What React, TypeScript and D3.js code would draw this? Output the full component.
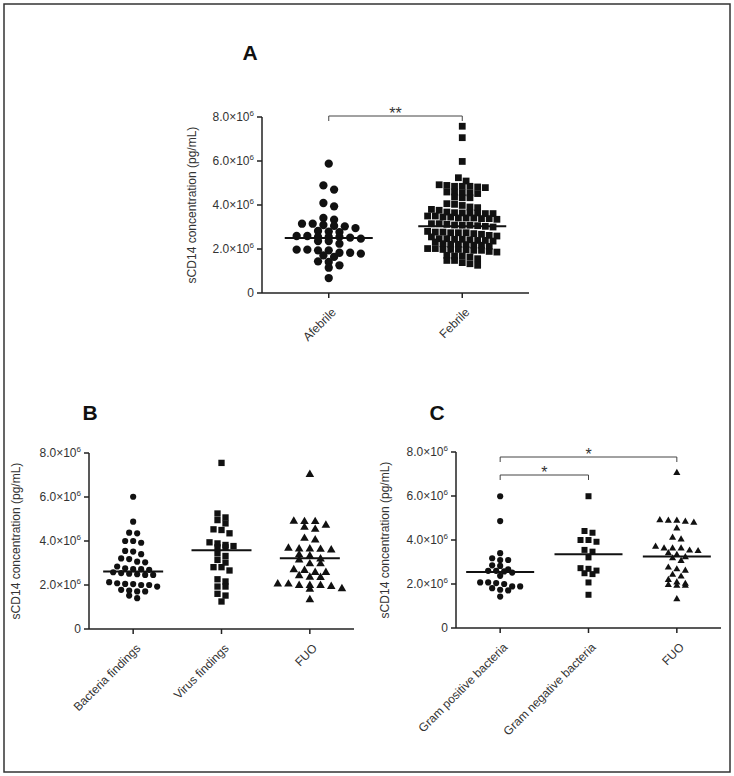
import { scaleLinear, scalePoint, symbol, symbolCircle, symbolSquare, symbolTriangle } from 'd3'

// values in 10^6 pg/mL
const yTicks = [0, 2, 4, 6, 8]
const yLabel = 'sCD14 concentration (pg/mL)'

// panel A
const groupsA = ['Afebrile', 'Febrile']
const afebrile = [
  5.88, 4.89, 4.7, 4.09, 3.94, 3.41, 3.33, 3.09, 3.03, 3.15, 3.15, 2.95, 3.05,
  2.77, 2.82, 2.79, 2.59, 2.52, 2.55, 2.59, 2.55, 2.36, 2.47, 2.55, 2.24, 2.36,
  1.97, 1.97, 1.83, 1.94, 1.79, 1.83, 1.94, 1.64, 1.71, 1.41, 1.44, 1.26, 1.15, 0.68,
]
const febrile = [
  7.58, 7.06, 5.98, 5.24,
  5.09, 4.89, 4.85, 4.79, 4.82, 4.85, 4.85, 4.92,
  4.59, 4.55, 4.56, 4.59, 4.52, 4.33, 4.36, 4.33, 4.03, 3.98, 4.06,
  3.91, 3.8, 3.88, 3.76, 3.68, 3.64, 3.64, 3.61, 3.64, 3.61, 3.65,
  3.5, 3.41, 3.45, 3.38, 3.41, 3.35, 3.38, 3.41, 3.45, 3.5,
  3.15, 3.08, 3.0, 3.06, 3.15, 3.09, 3.03, 3.12, 3.08,
  2.67, 2.74, 2.8, 2.74, 2.77, 2.74, 2.77, 2.7, 2.62, 2.59,
  2.44, 2.55, 2.47, 2.39, 2.42, 2.47, 2.44, 2.36, 2.32, 2.39,
  2.24, 2.17, 2.2, 2.21, 2.12, 2.17, 2.21,
  1.94, 1.98, 2.02, 1.97, 1.98, 2.02, 1.94, 1.98, 1.86, 1.89,
  1.68, 1.71, 1.68, 1.64, 1.56, 1.48, 1.38, 1.48, 1.26, 1.33,
]
const mediansA = [2.5, 3.03]

// panel B
const groupsB = ['Bacteria findings', 'Virus findings', 'FUO']
const bacteria = [
  6.01, 4.88, 4.35, 4.38, 4.0, 3.92, 4.0, 3.55, 3.4, 3.52, 3.18, 3.03, 3.06, 3.21,
  2.84, 2.72, 2.76, 2.69, 2.72, 2.54, 2.46, 2.49, 2.46, 2.51, 2.58,
  2.08, 2.04, 1.93, 2.0, 2.05, 2.0, 2.13, 1.78, 1.71, 1.75, 1.71, 1.4, 1.52,
]
const virus = [
  7.55, 5.25, 5.07, 4.95, 4.8, 4.5, 4.53, 4.35, 3.89, 3.77, 3.71, 3.71, 3.82, 3.94,
  3.32, 3.44, 3.14, 3.02, 2.81, 2.66, 2.81, 2.26, 2.16, 1.93, 1.93, 1.6, 1.52, 1.25,
]
const fuoB = [
  7.02, 4.72, 4.88, 4.9, 4.88, 4.53, 4.62, 4.12, 4.05,
  3.64, 3.67, 3.59, 3.64, 3.62, 3.18, 3.32, 3.37, 3.14, 2.96, 2.96,
  2.57, 2.66, 2.69, 2.57, 2.35, 2.42, 2.34,
  1.98, 2.04, 1.98, 2.05, 1.98, 1.81, 1.83, 1.93, 1.33,
]
const mediansB = [2.61, 3.58, 3.22]

// panel C
const groupsC = ['Gram positive bacteria', 'Gram negative bacteria', 'FUO']
const gramPos = [
  5.99, 4.86, 3.4, 3.17, 3.09, 3.09, 2.82, 2.85, 2.67, 2.6, 2.52, 2.57, 2.6, 2.37,
  2.07, 2.04, 2.0, 2.07, 1.89, 1.89, 1.81, 1.71, 1.74, 1.43,
]
const gramNeg = [
  5.99, 4.41, 4.33, 4.0, 3.92, 4.0, 3.47, 3.55, 3.21, 2.72, 2.61, 2.69, 2.45, 2.49, 2.07, 1.51,
]
const fuoC = [
  7.05, 4.88, 4.79, 4.9, 4.88, 4.83, 4.53, 4.03, 4.11,
  3.5, 3.7, 3.62, 3.62, 3.62, 3.52, 3.4, 3.22, 3.32, 3.17, 3.05,
  2.75, 2.67, 2.61, 2.34, 2.42, 2.19, 2.01, 1.92, 1.92, 1.96, 2.07, 1.31,
]
const mediansC = [2.55, 3.35, 3.25]

const compA = [{ from: 0, to: 1, label: '**' }]
const compC = [{ from: 0, to: 2, label: '*' }, { from: 0, to: 1, label: '*' }]

const font = '"Liberation Sans", Arial, sans-serif'
const ink = '#111'
const axisInk = '#222'

type Shape = 'circle' | 'square' | 'triangle'
const shapes = { circle: symbolCircle, square: symbolSquare, triangle: symbolTriangle }

function swarm(values: number[], y: (v: number) => number, rowH: number, gap: number) {
  const sorted = [...values].sort((a, b) => b - a)
  const rows: number[][] = []
  let cur: number[] | null = null
  sorted.forEach(v => {
    if (cur && y(v) - y(cur[0]) < rowH) cur.push(v)
    else { cur = [v]; rows.push(cur) }
  })
  return rows.flatMap(row => row.map((v, i) => ({ v, dx: (i - (row.length - 1) / 2) * gap })))
}

interface PanelProps {
  title: string
  titleX: number
  titleY: number
  labelX: number
  left: number
  right: number
  top: number
  bottom: number
  groups: string[]
  series: number[][]
  medians: number[]
  shapeOf: Shape[]
  sizes: number[]
  gaps: number[]
  rowH: number
  half: number
  comps?: { from: number; to: number; label: string }[]
  compYs?: number[]
}

function Panel(p: PanelProps) {
  const y = scaleLinear().domain([0, 8]).range([p.bottom, p.top])
  const x = scalePoint<string>().domain(p.groups).range([p.left, p.right]).padding(0.5)
  return (
    <g fontFamily={font}>
      <text x={p.titleX} y={p.titleY} textAnchor="middle" fontWeight="bold" fontSize={21} fill={ink}>
        {p.title}
      </text>
      <text
        transform={`translate(${p.labelX},${(p.top + p.bottom) / 2}) rotate(-90)`}
        textAnchor="middle" fontSize={12} fill="#333"
      >{yLabel}</text>
      {/* y axis */}
      <line x1={p.left} x2={p.left} y1={p.top} y2={p.bottom} stroke={axisInk} strokeWidth={1.5} />
      {yTicks.map(t => (
        <g key={t}>
          <line x1={p.left - 5} x2={p.left} y1={y(t)} y2={y(t)} stroke={axisInk} strokeWidth={1.5} />
          <text x={p.left - 8} y={y(t)} dy="0.35em" textAnchor="end" fontSize={12} fill="#333">
            {t === 0 ? '0' : <>{t.toFixed(1)}×10<tspan fontSize={8} dy={-5}>6</tspan></>}
          </text>
        </g>
      ))}
      {/* x axis */}
      <line x1={p.left} x2={p.right} y1={p.bottom} y2={p.bottom} stroke={axisInk} strokeWidth={1.5} />
      {p.groups.map(g => (
        <g key={g}>
          <line x1={x(g)} x2={x(g)} y1={p.bottom} y2={p.bottom + 5} stroke={axisInk} strokeWidth={1.5} />
          <text
            transform={`translate(${x(g)! + 8},${p.bottom + 20}) rotate(-45)`}
            textAnchor="end" fontSize={12} fill="#333"
          >{g}</text>
        </g>
      ))}
      {/* points */}
      {p.series.map((vals, gi) => {
        const cx = x(p.groups[gi])!
        const path = symbol(shapes[p.shapeOf[gi]], p.sizes[gi])()!
        return (
          <g key={gi}>
            {swarm(vals, y, p.rowH, p.gaps[gi]).map((d, i) => (
              <path key={i} d={path} transform={`translate(${cx + d.dx},${y(d.v)})`} fill={ink} />
            ))}
            <line x1={cx - p.half} x2={cx + p.half} y1={y(p.medians[gi])} y2={y(p.medians[gi])}
              stroke={ink} strokeWidth={2} />
          </g>
        )
      })}
      {/* significance brackets */}
      {(p.comps || []).map((c, i) => {
        const x1 = x(p.groups[c.from])!
        const x2 = x(p.groups[c.to])!
        const by = p.compYs![i]
        return (
          <g key={i}>
            <path d={`M${x1},${by + 5}V${by}H${x2}V${by + 5}`} fill="none" stroke="#444" strokeWidth={1} />
            <text x={(x1 + x2) / 2} y={by + 3} textAnchor="middle" fontSize={16} fill="#333">{c.label}</text>
          </g>
        )
      })}
    </g>
  )
}

export default function App() {
  return (
    <svg width={734} height={776} style={{ position: 'absolute', left: 0, top: 0 }}>
      <rect x={0} y={0} width={734} height={776} fill="#fff" />
      <rect x={4} y={4} width={726} height={768} fill="none" stroke="#333" strokeWidth={1.5} />
      <Panel
        title="A" titleX={250} titleY={60} labelX={196}
        left={262} right={529} top={117} bottom={293}
        groups={groupsA} series={[afebrile, febrile]} medians={mediansA}
        shapeOf={['circle', 'square']} sizes={[54, 46]} gaps={[10.7, 7.7]} rowH={5} half={44}
        comps={compA} compYs={[116]}
      />
      <Panel
        title="B" titleX={90} titleY={420} labelX={20}
        left={89} right={354} top={453} bottom={629}
        groups={groupsB} series={[bacteria, virus, fuoB]} medians={mediansB}
        shapeOf={['circle', 'square', 'triangle']} sizes={[30, 40, 32]} gaps={[8, 8, 10.7]} rowH={5} half={30}
      />
      <Panel
        title="C" titleX={437} titleY={420} labelX={389}
        left={456} right={721} top={452} bottom={628}
        groups={groupsC} series={[gramPos, gramNeg, fuoC]} medians={mediansC}
        shapeOf={['circle', 'square', 'triangle']} sizes={[30, 36, 22]} gaps={[8, 8, 8.5]} rowH={5} half={34}
        comps={compC} compYs={[457, 475]}
      />
    </svg>
  )
}
